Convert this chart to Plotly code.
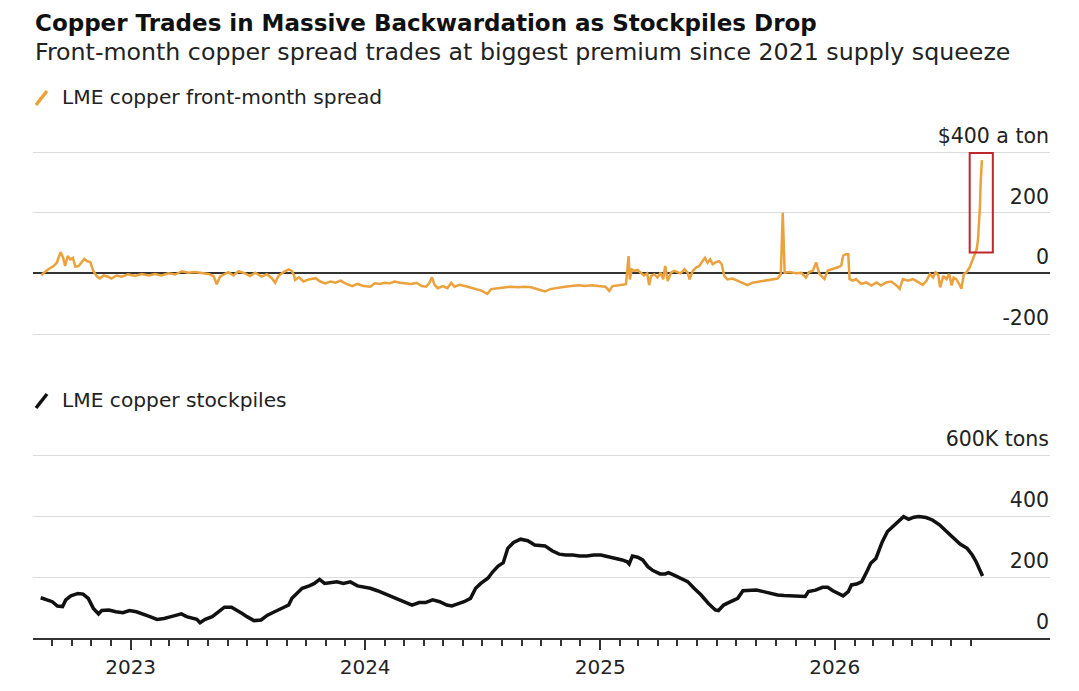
import pandas as pd
import plotly.graph_objects as go

# LME copper front-month spread, $ a ton
spread_dates = [
    "2022-08-15", "2022-08-19", "2022-08-27", "2022-09-03", "2022-09-08", "2022-09-14", "2022-09-18",
    "2022-09-21", "2022-09-25", "2022-09-29", "2022-10-03", "2022-10-07", "2022-10-12", "2022-10-16",
    "2022-10-21", "2022-10-25", "2022-10-30", "2022-11-04", "2022-11-09", "2022-11-14", "2022-11-20",
    "2022-11-27", "2022-12-02", "2022-12-10", "2022-12-18", "2022-12-28", "2023-01-08", "2023-01-18",
    "2023-01-29", "2023-02-08", "2023-02-18", "2023-03-01", "2023-03-11", "2023-03-22", "2023-04-01",
    "2023-04-11", "2023-04-22", "2023-05-02", "2023-05-10", "2023-05-15", "2023-05-20", "2023-05-28",
    "2023-06-02", "2023-06-10", "2023-06-18", "2023-06-28", "2023-07-06", "2023-07-14", "2023-07-24",
    "2023-08-01", "2023-08-09", "2023-08-14", "2023-08-19", "2023-08-27", "2023-09-04", "2023-09-09",
    "2023-09-12", "2023-09-14", "2023-09-20", "2023-09-27", "2023-10-05", "2023-10-16", "2023-10-23",
    "2023-10-31", "2023-11-08", "2023-11-16", "2023-11-24", "2023-12-01", "2023-12-12", "2023-12-20",
    "2023-12-30", "2024-01-09", "2024-01-16", "2024-01-24", "2024-01-31", "2024-02-08", "2024-02-16",
    "2024-02-24", "2024-03-05", "2024-03-13", "2024-03-21", "2024-03-29", "2024-04-05", "2024-04-10",
    "2024-04-14", "2024-04-18", "2024-04-23", "2024-05-01", "2024-05-08", "2024-05-14", "2024-05-19",
    "2024-05-27", "2024-06-04", "2024-06-12", "2024-06-22", "2024-06-30", "2024-07-09", "2024-07-15",
    "2024-07-26", "2024-08-05", "2024-08-15", "2024-08-26", "2024-09-05", "2024-09-15", "2024-09-26",
    "2024-10-07", "2024-10-15", "2024-10-22", "2024-10-28", "2024-11-07", "2024-11-17", "2024-11-28",
    "2024-12-08", "2024-12-19", "2024-12-29", "2025-01-09", "2025-01-15", "2025-01-20", "2025-01-30",
    "2025-02-10", "2025-02-14", "2025-02-16", "2025-02-19", "2025-02-23", "2025-02-28", "2025-03-05",
    "2025-03-10", "2025-03-15", "2025-03-18", "2025-03-21", "2025-03-26", "2025-03-31", "2025-04-05",
    "2025-04-09", "2025-04-12", "2025-04-16", "2025-04-21", "2025-04-26", "2025-05-01", "2025-05-06",
    "2025-05-12", "2025-05-17", "2025-05-20", "2025-05-25", "2025-05-30", "2025-06-04", "2025-06-09",
    "2025-06-13", "2025-06-17", "2025-06-21", "2025-06-25", "2025-06-30", "2025-07-05", "2025-07-09",
    "2025-07-13", "2025-07-18", "2025-07-26", "2025-08-03", "2025-08-11", "2025-08-18", "2025-08-26",
    "2025-09-03", "2025-09-13", "2025-09-24", "2025-10-04", "2025-10-09", "2025-10-12", "2025-10-15",
    "2025-10-22", "2025-11-02", "2025-11-10", "2025-11-17", "2025-11-22", "2025-11-28", "2025-12-03",
    "2025-12-08", "2025-12-16", "2025-12-21", "2025-12-29", "2026-01-06", "2026-01-11", "2026-01-14",
    "2026-01-18", "2026-01-22", "2026-01-24", "2026-01-29", "2026-02-03", "2026-02-11", "2026-02-19",
    "2026-02-27", "2026-03-07", "2026-03-14", "2026-03-22", "2026-03-30", "2026-04-07", "2026-04-12",
    "2026-04-17", "2026-04-25", "2026-05-03", "2026-05-11", "2026-05-18", "2026-05-24", "2026-05-29",
    "2026-06-03", "2026-06-07", "2026-06-11", "2026-06-14", "2026-06-19", "2026-06-24", "2026-06-28",
    "2026-07-02", "2026-07-05", "2026-07-09", "2026-07-15", "2026-07-17", "2026-07-21", "2026-07-25",
    "2026-07-30", "2026-08-04", "2026-08-10", "2026-08-12", "2026-08-14", "2026-08-15", "2026-08-16",
    "2026-08-18",
]
spread_values = [
    -7, 2, 15, 24, 35, 70, 51,
    24, 57, 46, 51, 22, 24, 35,
    48, 40, 37, 8, -9, -17, -7,
    -11, -17, -7, -11, -3, -9, -2,
    -7, -2, -7, 0, -4, 7, 2,
    4, 0, -2, -9, -36, -11, -2,
    4, -7, 7, 0, -9, 2, -11,
    -3, -17, -31, -9, 4, 13, 8,
    -5, -22, -13, -27, -20, -16, -27,
    -33, -27, -31, -24, -33, -42, -35,
    -42, -44, -33, -35, -31, -33, -27,
    -31, -33, -35, -31, -42, -44, -31,
    -13, -38, -49, -42, -49, -31, -44,
    -38, -42, -46, -52, -57, -68, -52,
    -49, -46, -44, -46, -44, -46, -52,
    -60, -52, -49, -47, -44, -42, -39,
    -42, -39, -42, -44, -58, -42, -39,
    -36, 57, -20, 13, 8, 11, 2,
    -7, 0, -39, -9, -3, -14, 2,
    -20, 24, -25, 2, 8, 4, 0,
    13, 2, -20, 8, 19, 24, 40,
    51, 35, 46, 30, 37, 40, 30,
    -9, -20, -17, -25, -33, -39, -31,
    -28, -25, -22, -17, -3, 200, 2,
    4, 0, 2, -14, 4, 9, 36,
    -2, -19, 9, 14, 20, 25, 58,
    63, 63, -19, -24, -19, -35, -30,
    -40, -30, -40, -30, -27, -40, -51,
    -19, -24, -19, -30, -38, -24, -2,
    -14, 3, -5, -46, -8, -19, -2,
    -40, -14, -19, -40, -51, -2, 3,
    20, 47, 80, 113, 167, 222, 298,
    373,
]

# LME copper stockpiles, thousand tons
stock_dates = [
    "2022-08-14", "2022-08-24", "2022-09-01", "2022-09-09", "2022-09-17", "2022-09-22", "2022-09-30",
    "2022-10-11", "2022-10-19", "2022-10-27", "2022-11-04", "2022-11-12", "2022-11-17", "2022-11-28",
    "2022-12-09", "2022-12-20", "2022-12-30", "2023-01-10", "2023-01-21", "2023-01-31", "2023-02-11",
    "2023-02-22", "2023-03-05", "2023-03-13", "2023-03-21", "2023-03-29", "2023-04-06", "2023-04-14",
    "2023-04-19", "2023-04-27", "2023-05-08", "2023-05-19", "2023-05-27", "2023-06-07", "2023-06-15",
    "2023-06-23", "2023-07-01", "2023-07-12", "2023-07-23", "2023-08-02", "2023-08-13", "2023-08-24",
    "2023-09-04", "2023-09-09", "2023-09-17", "2023-09-25", "2023-10-06", "2023-10-14", "2023-10-22",
    "2023-10-30", "2023-11-07", "2023-11-18", "2023-11-28", "2023-12-09", "2023-12-20", "2023-12-31",
    "2024-01-09", "2024-01-20", "2024-01-31", "2024-02-10", "2024-02-21", "2024-03-03", "2024-03-14",
    "2024-03-25", "2024-04-04", "2024-04-15", "2024-04-26", "2024-05-07", "2024-05-15", "2024-05-23",
    "2024-06-03", "2024-06-13", "2024-06-21", "2024-06-29", "2024-07-10", "2024-07-18", "2024-07-26",
    "2024-08-03", "2024-08-10", "2024-08-19", "2024-08-30", "2024-09-10", "2024-09-21", "2024-10-07",
    "2024-10-18", "2024-10-29", "2024-11-08", "2024-11-19", "2024-11-30", "2024-12-11", "2024-12-22",
    "2025-01-02", "2025-01-13", "2025-01-24", "2025-02-04", "2025-02-12", "2025-02-15", "2025-02-20",
    "2025-02-28", "2025-03-08", "2025-03-16", "2025-03-24", "2025-04-04", "2025-04-12", "2025-04-17",
    "2025-04-25", "2025-05-06", "2025-05-17", "2025-05-27", "2025-06-07", "2025-06-18", "2025-06-29",
    "2025-07-04", "2025-07-12", "2025-07-23", "2025-08-03", "2025-08-11", "2025-08-22", "2025-09-01",
    "2025-09-12", "2025-09-23", "2025-10-04", "2025-10-14", "2025-10-25", "2025-11-05", "2025-11-16",
    "2025-11-21", "2025-12-02", "2025-12-13", "2025-12-21", "2025-12-29", "2026-01-06", "2026-01-14",
    "2026-01-22", "2026-01-27", "2026-02-04", "2026-02-12", "2026-02-20", "2026-02-26", "2026-03-06",
    "2026-03-11", "2026-03-16", "2026-03-24", "2026-04-01", "2026-04-09", "2026-04-18", "2026-04-26",
    "2026-05-04", "2026-05-12", "2026-05-23", "2026-06-02", "2026-06-13", "2026-06-24", "2026-07-05",
    "2026-07-15", "2026-07-26", "2026-08-03", "2026-08-09", "2026-08-14", "2026-08-19",
]
stock_values = [
    132, 125, 119, 105, 103, 125, 138,
    146, 144, 130, 97, 79, 90, 92,
    86, 83, 90, 86, 79, 70, 61,
    64, 70, 75, 79, 70, 64, 61,
    50, 61, 70, 86, 101, 101, 92,
    81, 70, 57, 59, 75, 86, 97,
    108, 130, 146, 163, 171, 179, 192,
    179, 181, 184, 179, 184, 171, 168,
    163, 155, 146, 136, 127, 119, 108,
    116, 116, 125, 119, 108, 105, 111,
    119, 130, 163, 179, 196, 218, 236,
    247, 294, 313, 324, 319, 305, 302,
    286, 275, 272, 272, 269, 269, 272,
    272, 267, 261, 256, 250, 243, 269,
    265, 256, 234, 221, 210, 210, 214,
    207, 196, 185, 163, 141, 114, 92,
    90, 108, 119, 130, 155, 155, 157,
    152, 146, 141, 139, 138, 136, 136,
    152, 157, 166, 166, 155, 146, 138,
    152, 174, 177, 185, 218, 245, 261,
    289, 316, 349, 365, 381, 398, 389,
    396, 398, 395, 387, 371, 349, 327,
    308, 294, 272, 250, 228, 203,
]

year_ticks = ["2023-01-01", "2024-01-01", "2025-01-01", "2026-01-01"]
year_labels = ["2023", "2024", "2025", "2026"]
spread_ticks = [-200, 0, 200, 400]
spread_labels = ["-200", "0", "200", "$400 a ton"]
stock_ticks = [0, 200, 400, 600]
stock_labels = ["0", "200", "400", "600K tons"]

ORANGE = "#eba13c"
FONT = "DejaVu Sans"

# the page puts the plot 8px in from the top-left corner, so the figure is kept a bit
# smaller than the window; the helpers below work in window pixels
W, H = 1063, 672
PLOT_L, PLOT_R, PLOT_T, PLOT_B = 33, 1050, 100, 651
OFF = 8


def fy(px):
    return (PLOT_B - px) / (PLOT_B - PLOT_T)


def fx(px):
    return (px - PLOT_L) / (PLOT_R - PLOT_L)


s1 = (334 - 152) / 600.0
s2 = (638 - 455) / 600.0

fig = go.Figure()
fig.add_trace(go.Scatter(x=pd.to_datetime(spread_dates), y=spread_values, mode="lines",
                         line=dict(color=ORANGE, width=2.5), xaxis="x", yaxis="y",
                         showlegend=False, hoverinfo="skip"))
fig.add_trace(go.Scatter(x=pd.to_datetime(stock_dates), y=stock_values, mode="lines",
                         line=dict(color="#111111", width=3.5), xaxis="x2", yaxis="y2",
                         showlegend=False, hoverinfo="skip"))

x_range = ["2022-08-02", "2026-12-02"]
month_ticks = pd.date_range("2022-09-01", "2026-08-01", freq="MS")

yaxis_common = dict(side="right", ticklabelposition="inside top", ticklabeloverflow="allow",
                    showgrid=True, gridcolor="#dcdcdc", gridwidth=1, ticks="", showline=False,
                    tickfont=dict(family=FONT, size=20.5, color="#222"),
                    ticklabelshift=-2, ticklabelstandoff=-2, automargin=False)

fig.update_layout(
    width=W, height=H,
    paper_bgcolor="white", plot_bgcolor="white",
    margin=dict(l=PLOT_L - OFF, r=W - (PLOT_R - OFF), t=PLOT_T - OFF, b=H - (PLOT_B - OFF)),
    font=dict(family=FONT, color="#222"),
    xaxis=dict(domain=[0, 1], range=x_range, anchor="y", matches="x2", automargin=False,
               showticklabels=False, showgrid=False, ticks="", showline=False, zeroline=False),
    yaxis=dict(domain=[fy(340), fy(146)], range=[-200 - 6 / s1, 400 + 6 / s1],
               tickvals=spread_ticks, ticktext=spread_labels,
               zeroline=True, zerolinecolor="#333", zerolinewidth=1.5, anchor="x",
               **yaxis_common),
    xaxis2=dict(domain=[0, 1], range=x_range, anchor="y2", automargin=False,
                tickvals=year_ticks, ticktext=year_labels, ticks="outside", ticklen=10,
                tickwidth=1.5, tickcolor="#333", showline=True, linecolor="#333", linewidth=2,
                showgrid=False, zeroline=False,
                tickfont=dict(family=FONT, size=20, color="#222"),
                minor=dict(tickmode="array", tickvals=list(month_ticks), ticks="outside",
                           ticklen=6, tickwidth=1.5, tickcolor="#333", showgrid=False)),
    yaxis2=dict(domain=[fy(638), fy(449)], range=[0, 600 + 6 / s2],
                tickvals=stock_ticks, ticktext=stock_labels, zeroline=False, anchor="x2",
                **yaxis_common),
)

# highlight box round the latest spike
fig.add_shape(type="rect", xref="x", yref="y", x0="2026-07-30", x1="2026-09-04", y0=69, y1=397,
              line=dict(color="#c0272d", width=2))

# legend keys drawn as short slashes
fig.add_shape(type="line", xref="paper", yref="paper", x0=fx(36), y0=fy(105), x1=fx(47), y1=fy(91),
              line=dict(color=ORANGE, width=3.5))
fig.add_shape(type="line", xref="paper", yref="paper", x0=fx(36), y0=fy(408), x1=fx(47), y1=fy(394),
              line=dict(color="#111111", width=3.5))

# title block: the title hangs from the very top of the figure so it is not clipped
fig.add_annotation(text="<b>Copper Trades in Massive Backwardation as Stockpiles Drop</b>",
                   xref="paper", yref="paper", x=fx(33), y=fy(OFF), xanchor="left", yanchor="top",
                   showarrow=False, font=dict(family=FONT, size=23, color="#111"))

texts = [
    ("Front-month copper spread trades at biggest premium since 2021 supply squeeze", 33, 52, 23.7, "#222"),
    ("LME copper front-month spread", 60, 97, 20.2, "#222"),
    ("LME copper stockpiles", 60, 400, 20.2, "#222"),
]
for txt, px, py, size, col in texts:
    fig.add_annotation(text=txt, xref="paper", yref="paper", x=fx(px), y=fy(py),
                       xanchor="left", yanchor="middle", showarrow=False,
                       font=dict(family=FONT, size=size, color=col))

fig.write_html("out.html")
